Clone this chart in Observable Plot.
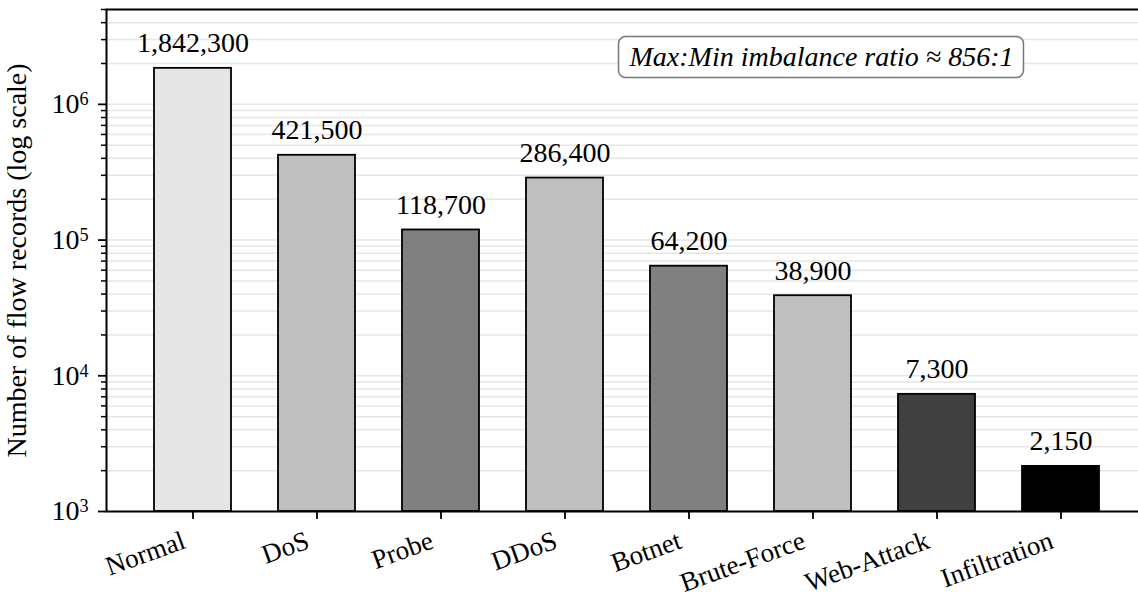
<!DOCTYPE html>
<html>
<head>
<meta charset="utf-8">
<script src="https://cdn.jsdelivr.net/npm/d3@7"></script>
<script src="https://cdn.jsdelivr.net/npm/@observablehq/plot@0.6"></script>
<style>
html, body { margin: 0; padding: 0; overflow: hidden; background: white; }
#chart svg { overflow: hidden; }
</style>
</head>
<body>
<div id="chart"></div>
<script>
const categories = ["Normal", "DoS", "Probe", "DDoS", "Botnet", "Brute-Force", "Web-Attack", "Infiltration"];
const counts = [1842300, 421500, 118700, 286400, 64200, 38900, 7300, 2150];
const fills = ["#e5e5e5", "#bfbfbf", "#808080", "#bfbfbf", "#808080", "#bfbfbf", "#404040", "#000000"];
const countLabels = ["1,842,300", "421,500", "118,700", "286,400", "64,200", "38,900", "7,300", "2,150"];
const majorTicks = [1e3, 1e4, 1e5, 1e6];
const minorTicks = [];
for (const m of [1e3, 1e4, 1e5, 1e6]) for (let k = 2; k <= 9; k++) if (m * k <= 5e6) minorTicks.push(m * k);
const yLabel = "Number of flow records (log scale)";
const note = "Max:Min imbalance ratio \u2248 856:1";

const data = categories.map((c, i) => ({category: c, value: counts[i], fill: fills[i], label: countLabels[i]}));
const font = "Liberation Serif, Times New Roman, serif";

const plot = Plot.plot({
  width: 1138,
  height: 599,
  marginLeft: 106,
  marginRight: -8,
  marginTop: 9,
  marginBottom: 88,
  style: {fontFamily: font, fontSize: "28px", background: "white", color: "black"},
  x: {domain: categories, paddingInner: 0.38, paddingOuter: 0.38, label: null},
  y: {type: "log", domain: [1e3, 5e6], label: null},
  marks: [
    Plot.gridY(minorTicks.concat(majorTicks), {stroke: "#e6e6e6", strokeOpacity: 1, strokeWidth: 1.5}),
    Plot.barY(data, {x: "category", y1: () => 1e3, y2: "value", fill: "fill", stroke: "black", strokeWidth: 1.8}),
    Plot.text(data, {x: "category", y: "value", text: "label", lineAnchor: "bottom", dy: -16, fontSize: 28}),
    Plot.axisY(minorTicks, {tickSize: 5, tickFormat: () => "", strokeWidth: 1.5}),
    Plot.axisY(majorTicks, {tickSize: 8, tickPadding: 10, strokeWidth: 1.8, fontSize: 28, tickFormat: d => "10^" + Math.round(Math.log10(d))}),
    Plot.axisX({tickSize: 8, tickFormat: () => "", strokeWidth: 1.8}),
    Plot.axisX({tickSize: 0, tickRotate: -20, tickPadding: 16, fontSize: 27, dx: -9, dy: 12}),
    Plot.frame({stroke: "black", strokeWidth: 2}),
    Plot.text([note], {frameAnchor: "top-left", dx: 715, dy: 48, lineAnchor: "middle", fontStyle: "italic", fontSize: 28, textAnchor: "middle"}),
    Plot.text([yLabel], {frameAnchor: "left", dx: -89, rotate: -90, fontSize: 28, textAnchor: "middle"})
  ]
});
document.getElementById("chart").appendChild(plot);

// superscript exponents on y tick labels
plot.querySelectorAll('g[aria-label="y-axis tick label"] text').forEach(t => {
  const s = t.textContent;
  if (s.includes("^")) {
    const [b, e] = s.split("^");
    t.textContent = "";
    t.appendChild(document.createTextNode(b));
    const ts = document.createElementNS("http://www.w3.org/2000/svg", "tspan");
    ts.setAttribute("dy", "-0.45em");
    ts.setAttribute("font-size", "0.65em");
    ts.textContent = e;
    t.appendChild(ts);
  }
});

// rounded box around the note
plot.querySelectorAll('g[aria-label="text"] text').forEach(t => {
  if (t.textContent === note) {
    const bb = t.getBBox();
    const r = document.createElementNS("http://www.w3.org/2000/svg", "rect");
    r.setAttribute("x", bb.x - 10);
    r.setAttribute("y", bb.y - 5);
    r.setAttribute("width", bb.width + 20);
    r.setAttribute("height", bb.height + 10);
    r.setAttribute("rx", 7);
    r.setAttribute("fill", "white");
    r.setAttribute("stroke", "#777");
    r.setAttribute("stroke-width", 1.5);
    const tr = t.getAttribute("transform");
    if (tr) r.setAttribute("transform", tr);
    t.parentNode.insertBefore(r, t);
  }
});
</script>
</body>
</html>
